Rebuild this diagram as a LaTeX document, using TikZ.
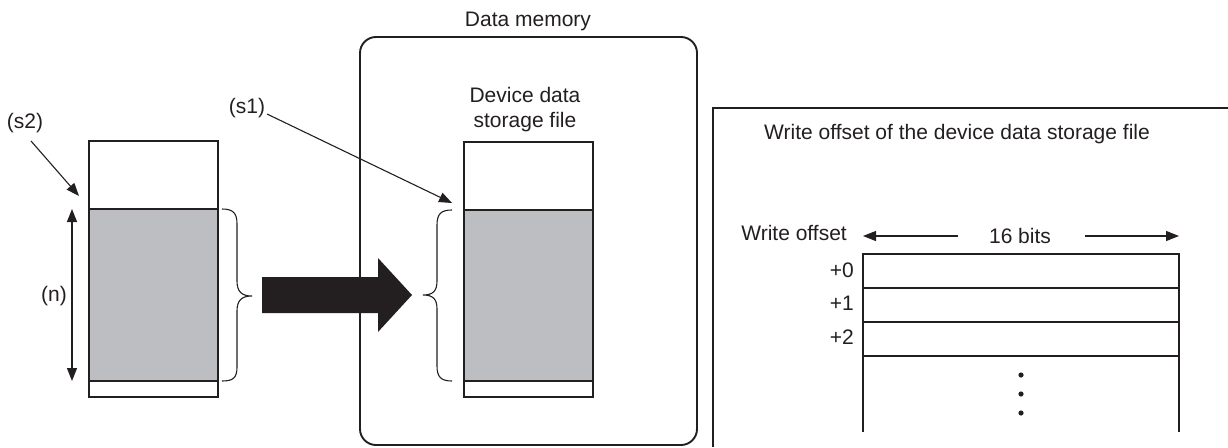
\documentclass[tikz,border=0pt]{standalone}
\usepackage{fontspec}
\setmainfont{Liberation Sans}
\usetikzlibrary{arrows.meta}
\definecolor{bandgrey}{RGB}{188,190,193}
\definecolor{ink}{RGB}{35,31,32}
\begin{document}
\begin{tikzpicture}[x=1pt,y=-1pt,
  lbl/.style={inner sep=0pt,font=\fontsize{21}{25}\selectfont,text=ink},
  boxline/.style={draw=ink,line width=1.9pt},
  thin/.style={draw=ink,line width=1.1pt},
  tip/.style={-{Triangle[length=13pt,width=10pt]}},
  tips/.style={{Triangle[length=13pt,width=10pt]}-{Triangle[length=13pt,width=10pt]}},
  brace/.style={draw=ink,line width=1.1pt}]
\useasboundingbox (0,0) rectangle (1228,447);

% ---------- left source block ----------
\fill[bandgrey] (89,209) rectangle (218,381);
\node[boxline,minimum width=129pt,minimum height=256pt,inner sep=0pt] (lbox) at (153.5,269) {};
\draw[boxline] (89,209) -- (218,209) (89,381) -- (218,381);
\node[lbl] (s2) at (25,123) {(s2)};
\coordinate (s2tip) at (79,196);
\draw[thin,tip] (31,141) -- (s2tip);
\coordinate (ntop) at (72,209);
\coordinate (nbot) at (72,381);
\draw[thin,tips] (ntop) -- (nbot);
\node[lbl,fill=white,inner sep=1pt] (n) at (54,296) {(n)};
\draw[brace] (222,209) .. controls (233,209) and (237,213) .. (237,224) -- (237,281)
  .. controls (237,292) and (242,296) .. (252,296)
  .. controls (242,296) and (237,300) .. (237,311) -- (237,367)
  .. controls (237,378) and (233,381) .. (222,381);

% ---------- data memory ----------
\node[boxline,rounded corners=16pt,minimum width=337pt,minimum height=408pt,inner sep=0pt] (mem) at (528.5,241) {};
\node[lbl] (memlbl) at (528,21) {Data memory};
\node[lbl,align=center,font=\fontsize{21}{25}\selectfont] (dev) at (525,110) {Device data\\storage file};

% big arrow
\fill[ink] (262,277) -- (378,277) -- (378,258) -- (412,295) -- (378,332) -- (378,313) -- (262,313) -- cycle;

% right storage block
\fill[bandgrey] (464,210) rectangle (593,381);
\node[boxline,minimum width=129pt,minimum height=255pt,inner sep=0pt] (rbox) at (528.5,269.5) {};
\draw[boxline] (464,210) -- (593,210) (464,381) -- (593,381);
\draw[brace] (452,210) .. controls (441,210) and (437,214) .. (437,225) -- (437,281)
  .. controls (437,291) and (433,295) .. (423,295)
  .. controls (433,295) and (437,299) .. (437,309) -- (437,366)
  .. controls (437,377) and (441,381) .. (452,381);
\node[lbl] (s1) at (247,108) {(s1)};
\coordinate (s1tip) at (452,203);
\draw[thin,tip] (267,114) -- (s1tip);

% ---------- right panel ----------
\draw[boxline] (713,447) -- (713,108) -- (1228,108);
\node[lbl] (title) at (957,134) {Write offset of the device data storage file};
\node[lbl,anchor=east] (wo) at (847,233) {Write offset};
\node[lbl] (bits) at (1020,236) {16 bits};
\coordinate (al) at (863,236);
\coordinate (ar) at (1179,236);
\draw[thin,tip] (958,236) -- (al);
\draw[thin,tip] (1085,236) -- (ar);
\draw[boxline] (863,432) -- (863,254) -- (1179,254) -- (1179,432);
\draw[boxline] (863,288) -- (1179,288) (863,322) -- (1179,322) (863,356) -- (1179,356);
\node[lbl,anchor=east] (r0) at (854,270) {+0};
\node[lbl,anchor=east] (r1) at (854,303) {+1};
\node[lbl,anchor=east] (r2) at (854,337) {+2};
\foreach \yy in {375,394,413} \fill[ink] (1021,\yy) circle (2.6);
\end{tikzpicture}
\end{document}
